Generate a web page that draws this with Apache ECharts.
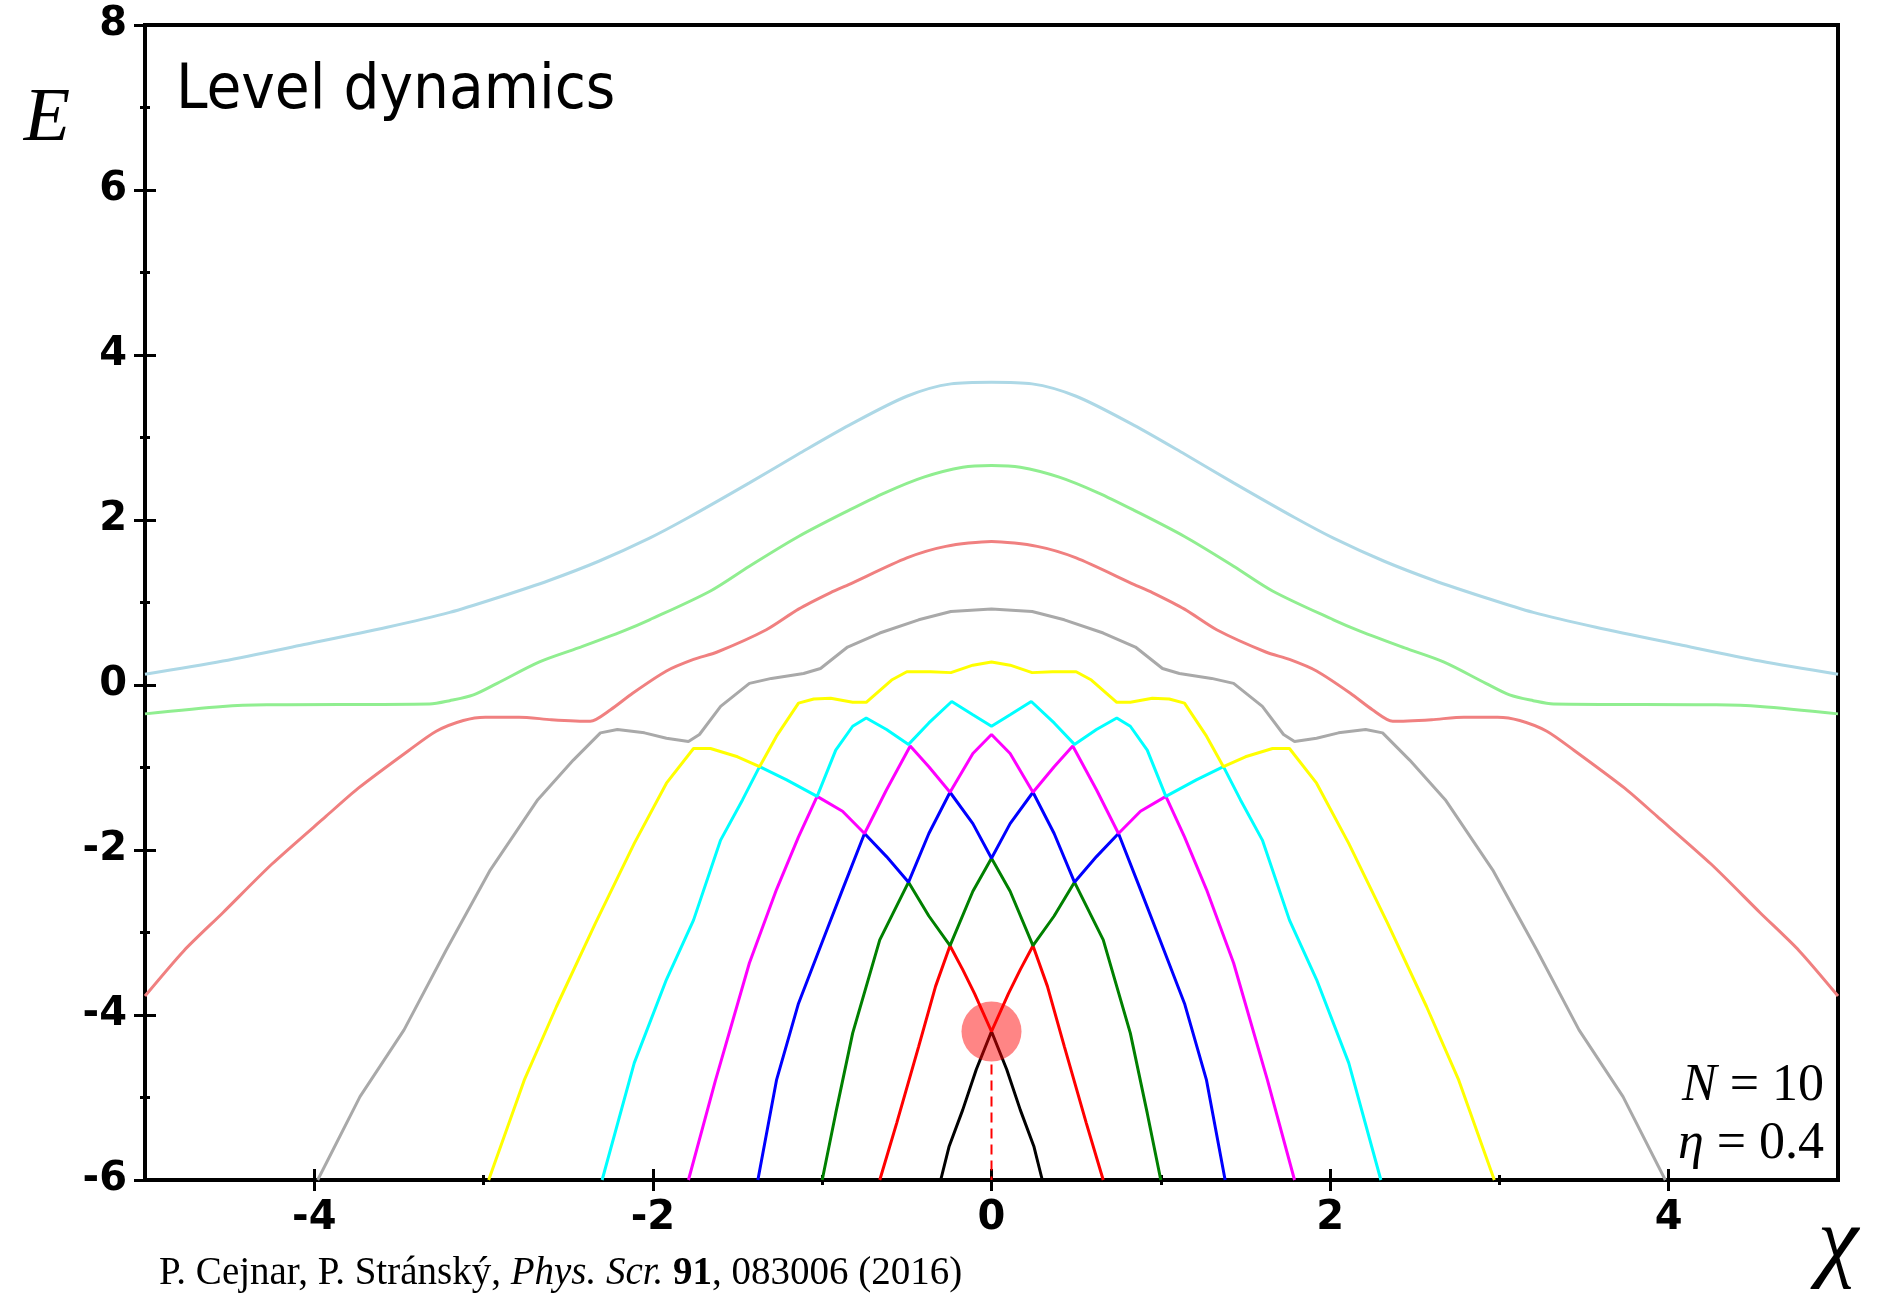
<!DOCTYPE html>
<html>
<head>
<meta charset="utf-8">
<title>Level dynamics</title>
<script src="https://cdn.jsdelivr.net/npm/echarts@6/dist/echarts.min.js"></script>
<style>
  html, body { margin: 0; padding: 0; background: #fff; }
  #chart { width: 1878px; height: 1295px; }
</style>
</head>
<body>
<div id="chart"></div>
<script>
// levels sorted by energy: level0 = lowest (black) ... level10 = highest (light blue)
const level0 = [[-0.30,-6],[-0.25,-5.59],[-0.17,-5.15],[-0.09,-4.66],[0,-4.2],[0.09,-4.66],[0.17,-5.15],[0.25,-5.59],[0.30,-6]]
const level1 = [[-0.66,-6],[-0.56,-5.31],[-0.43,-4.38],[-0.33,-3.65],[-0.245,-3.16],[-0.17,-3.45],[-0.10,-3.74],[0,-4.2],
  [0.10,-3.74],[0.17,-3.45],[0.245,-3.16],[0.33,-3.65],[0.43,-4.38],[0.56,-5.31],[0.66,-6]]
const level2 = [[-1.0,-6],[-0.92,-5.19],[-0.82,-4.22],[-0.66,-3.09],[-0.49,-2.39],[-0.37,-2.80],[-0.245,-3.16],[-0.11,-2.50],[0,-2.1],
  [0.11,-2.50],[0.245,-3.16],[0.37,-2.80],[0.49,-2.39],[0.66,-3.09],[0.82,-4.22],[0.92,-5.19],[1.0,-6]]
const level3 = [[-1.38,-6],[-1.27,-4.79],[-1.14,-3.86],[-0.98,-3.01],[-0.88,-2.48],[-0.75,-1.80],[-0.62,-2.08],[-0.49,-2.39],
  [-0.37,-1.80],[-0.245,-1.30],[-0.11,-1.68],[0,-2.1],[0.11,-1.68],[0.245,-1.30],[0.37,-1.80],[0.49,-2.39],[0.62,-2.08],
  [0.75,-1.80],[0.88,-2.48],[0.98,-3.01],[1.14,-3.86],[1.27,-4.79],[1.38,-6]]
const level4 = [[-1.79,-6],[-1.63,-4.79],[-1.43,-3.37],[-1.27,-2.48],[-1.14,-1.84],[-1.03,-1.35],[-0.88,-1.53],[-0.75,-1.80],
  [-0.62,-1.27],[-0.48,-0.74],[-0.37,-0.99],[-0.245,-1.30],[-0.11,-0.83],[0,-0.60],[0.11,-0.83],[0.245,-1.30],[0.37,-0.99],
  [0.48,-0.74],[0.62,-1.27],[0.75,-1.80],[0.88,-1.53],[1.03,-1.35],[1.14,-1.84],[1.27,-2.48],[1.43,-3.37],[1.63,-4.79],[1.79,-6]]
const level5 = [[-2.30,-6],[-2.11,-4.58],[-1.92,-3.57],[-1.76,-2.85],[-1.60,-1.88],[-1.47,-1.39],[-1.37,-0.99],[-1.21,-1.15],
  [-1.03,-1.35],[-0.92,-0.79],[-0.82,-0.50],[-0.74,-0.40],[-0.62,-0.54],[-0.49,-0.72],[-0.37,-0.46],[-0.235,-0.20],[-0.11,-0.36],
  [0,-0.50],[0.11,-0.36],[0.235,-0.20],[0.37,-0.46],[0.49,-0.72],[0.62,-0.54],[0.74,-0.40],[0.82,-0.50],[0.92,-0.79],[1.03,-1.35],
  [1.21,-1.15],[1.37,-0.99],[1.47,-1.39],[1.60,-1.88],[1.76,-2.85],[1.92,-3.57],[2.11,-4.58],[2.30,-6]]
const level6 = [[-2.97,-6],[-2.76,-4.79],[-2.57,-3.90],[-2.34,-2.89],[-2.11,-1.92],[-1.92,-1.19],[-1.76,-0.77],[-1.66,-0.77],
  [-1.50,-0.87],[-1.37,-0.99],[-1.27,-0.62],[-1.14,-0.22],[-1.05,-0.17],[-0.95,-0.16],[-0.82,-0.21],[-0.74,-0.21],[-0.59,0.06],
  [-0.50,0.16],[-0.36,0.16],[-0.24,0.15],[-0.11,0.24],[0,0.28],[0.11,0.24],[0.24,0.15],[0.36,0.16],[0.50,0.16],[0.59,0.06],
  [0.74,-0.21],[0.82,-0.21],[0.95,-0.16],[1.05,-0.17],[1.14,-0.22],[1.27,-0.62],[1.37,-0.99],[1.50,-0.87],[1.66,-0.77],
  [1.76,-0.77],[1.92,-1.19],[2.11,-1.92],[2.34,-2.89],[2.57,-3.90],[2.76,-4.79],[2.97,-6]]
const level7 = [[-3.98,-6],[-3.73,-4.99],[-3.47,-4.18],[-3.22,-3.21],[-2.96,-2.24],[-2.68,-1.39],[-2.47,-0.91],[-2.31,-0.58],
  [-2.21,-0.54],[-2.05,-0.58],[-1.92,-0.645],[-1.79,-0.685],[-1.725,-0.60],[-1.60,-0.26],[-1.43,0.02],[-1.30,0.08],[-1.11,0.14],
  [-1.01,0.20],[-0.85,0.46],[-0.66,0.63],[-0.43,0.79],[-0.24,0.89],[0,0.92],[0.24,0.89],[0.43,0.79],[0.66,0.63],[0.85,0.46],
  [1.01,0.20],[1.11,0.14],[1.30,0.08],[1.43,0.02],[1.60,-0.26],[1.725,-0.60],[1.79,-0.685],[1.92,-0.645],[2.05,-0.58],
  [2.21,-0.54],[2.31,-0.58],[2.47,-0.91],[2.68,-1.39],[2.96,-2.24],[3.22,-3.21],[3.47,-4.18],[3.73,-4.99],[3.98,-6]]
const level8 = [[-5,-3.77],[-4.77,-3.22],[-4.54,-2.76],[-4.25,-2.17],[-3.93,-1.59],[-3.74,-1.25],[-3.44,-0.79],
  [-3.28,-0.56],[-3.12,-0.43],[-2.99,-0.39],[-2.79,-0.39],[-2.60,-0.42],[-2.37,-0.44],[-2.25,-0.30],[-2.12,-0.10],
  [-1.92,0.17],[-1.76,0.31],[-1.62,0.40],[-1.33,0.67],[-1.14,0.92],[-0.95,1.12],[-0.84,1.22],[-0.50,1.54],[-0.27,1.68],[0,1.74],
  [0.27,1.68],[0.50,1.54],[0.84,1.22],[0.95,1.12],[1.14,0.92],[1.33,0.67],[1.62,0.40],[1.76,0.31],[1.92,0.17],[2.12,-0.10],
  [2.25,-0.30],[2.37,-0.44],[2.60,-0.42],[2.79,-0.39],[2.99,-0.39],[3.12,-0.43],[3.28,-0.56],[3.44,-0.79],
  [3.74,-1.25],[3.93,-1.59],[4.25,-2.17],[4.54,-2.76],[4.77,-3.22],[5,-3.77]]
const level9 = [[-5,-0.35],[-4.54,-0.26],[-4.28,-0.24],[-3.32,-0.23],[-3.20,-0.19],[-3.06,-0.12],[-2.92,0.02],[-2.67,0.28],
  [-2.44,0.45],[-2.18,0.65],[-2.02,0.79],[-1.66,1.14],[-1.43,1.44],[-1.14,1.80],[-0.84,2.12],[-0.63,2.33],[-0.40,2.52],
  [-0.17,2.64],[0,2.66],[0.17,2.64],[0.40,2.52],[0.63,2.33],[0.84,2.12],[1.14,1.80],[1.43,1.44],[1.66,1.14],[2.02,0.79],
  [2.18,0.65],[2.44,0.45],[2.67,0.28],[2.92,0.02],[3.06,-0.12],[3.20,-0.19],[3.32,-0.23],[4.28,-0.24],[4.54,-0.26],[5,-0.35]]
const level10 = [[-5,0.13],[-4.54,0.29],[-4.06,0.49],[-3.57,0.70],[-3.20,0.88],[-2.90,1.07],[-2.61,1.27],[-2.32,1.50],
  [-2.02,1.78],[-1.79,2.03],[-1.43,2.45],[-1.14,2.80],[-0.84,3.15],[-0.50,3.50],[-0.24,3.65],[0,3.67],[0.24,3.65],[0.50,3.50],
  [0.84,3.15],[1.14,2.80],[1.43,2.45],[1.79,2.03],[2.02,1.78],[2.32,1.50],[2.61,1.27],[2.90,1.07],[3.20,0.88],[3.57,0.70],
  [4.06,0.49],[4.54,0.29],[5,0.13]]

const levels = [level0, level1, level2, level3, level4, level5, level6, level7, level8, level9, level10]
const levelColors = ['#000000', '#ff0000', '#008000', '#0000ff', '#ff00ff', '#00ffff',
  '#ffff00', '#a9a9a9', '#f08080', '#90ee90', '#add8e6']
// the upper levels are drawn a little smoothed, the crossing region keeps sharp corners
const levelSmooth = [false, false, false, false, false, false, false, false, 0.25, 0.3, 0.3]

// highlighted crossing and its dashed marker
const crossPoint = [[0, -4.2]]
const crossDrop = [[0, -4.6], [0, -6]]

const xMajor = [-4, -2, 0, 2, 4]
const xMinor = [-3, -1, 1, 3]
const yMajor = [-6, -4, -2, 0, 2, 4, 6, 8]
const yMinor = [-5, -3, -1, 1, 3, 5, 7]

const tickFont = "'DejaVu Sans', 'Liberation Sans', sans-serif"
const serif = "'Liberation Serif', 'DejaVu Serif', serif"

function makeAxis(dim, ticks, len, inside, main) {
  const ax = {
    type: 'value',
    position: dim === 'x' ? 'bottom' : 'left',
    offset: 0,
    min: dim === 'x' ? -5 : -6,
    max: dim === 'x' ? 5 : 8,
    splitLine: { show: false },
    axisLine: { show: main, onZero: false, lineStyle: { color: '#000', width: 4 } },
    axisTick: { show: true, inside: inside, length: len, customValues: ticks, lineStyle: { color: '#000', width: 3 } },
    axisLabel: { show: false }
  }
  if (main) {
    ax.axisLabel = {
      show: true,
      customValues: ticks,
      color: '#000',
      fontFamily: tickFont,
      fontWeight: 'bold',
      fontSize: 40,
      margin: dim === 'x' ? 19 : 18
    }
  }
  return ax
}

const series = levels.map((lv, i) => ({
  type: 'line',
  data: lv,
  symbol: 'none',
  smooth: levelSmooth[i],
  lineStyle: { color: levelColors[i], width: 3 },
  z: 2
}))

series.push({
  type: 'line',
  data: crossDrop,
  symbol: 'none',
  lineStyle: { color: '#ff0000', width: 2, type: [10, 6] },
  z: 3
})
series.push({
  type: 'scatter',
  data: crossPoint,
  symbolSize: 60,
  itemStyle: { color: 'rgba(255, 0, 0, 0.6)' },
  z: 5
})

const options = {
  animation: false,
  backgroundColor: '#fff',
  grid: {
    left: 145,
    right: 40,
    top: 25,
    bottom: 115,
    show: true,
    borderColor: '#000',
    borderWidth: 4,
    containLabel: false
  },
  xAxis: [
    makeAxis('x', xMajor, 11, false, true),
    makeAxis('x', xMajor, 11, true, false),
    makeAxis('x', xMinor, 5, false, false),
    makeAxis('x', xMinor, 5, true, false)
  ],
  yAxis: [
    makeAxis('y', yMajor, 11, false, true),
    makeAxis('y', yMajor, 11, true, false),
    makeAxis('y', yMinor, 5, false, false),
    makeAxis('y', yMinor, 5, true, false)
  ],
  series: series,
  graphic: [
    {
      type: 'text', x: 176, y: 92,
      style: {
        text: 'Level dynamics',
        font: "63px 'DejaVu Sans Condensed', 'DejaVu Sans', sans-serif",
        fill: '#000', verticalAlign: 'middle'
      }
    },
    {
      type: 'text', x: 47, y: 120,
      style: {
        text: 'E', font: 'italic 76px ' + serif,
        fill: '#000', align: 'center', verticalAlign: 'middle'
      }
    },
    {
      type: 'text', x: 1838, y: 1246,
      style: {
        text: 'χ', font: 'italic 92px ' + serif,
        fill: '#000', align: 'center', verticalAlign: 'middle'
      }
    },
    {
      type: 'text', x: 1824, y: 1086,
      style: {
        text: '{i|N}{r| = 10}',
        align: 'right', verticalAlign: 'middle',
        rich: {
          i: { font: 'italic 52px ' + serif, fill: '#000' },
          r: { font: '52px ' + serif, fill: '#000' }
        }
      }
    },
    {
      type: 'text', x: 1824, y: 1144,
      style: {
        text: '{i|η}{r| = 0.4}',
        align: 'right', verticalAlign: 'middle',
        rich: {
          i: { font: 'italic 52px ' + serif, fill: '#000' },
          r: { font: '52px ' + serif, fill: '#000' }
        }
      }
    },
    {
      type: 'text', x: 159, y: 1274,
      style: {
        text: '{a|P. Cejnar, P. Stránský, }{i|Phys. Scr.}{a| }{b|91}{a|, 083006 (2016)}',
        verticalAlign: 'middle',
        rich: {
          a: { font: '39px ' + serif, fill: '#000' },
          i: { font: 'italic 39px ' + serif, fill: '#000' },
          b: { font: 'bold 39px ' + serif, fill: '#000' }
        }
      }
    }
  ]
}

const myChart = echarts.init(document.getElementById('chart'))
myChart.setOption(options)
</script>
</body>
</html>
